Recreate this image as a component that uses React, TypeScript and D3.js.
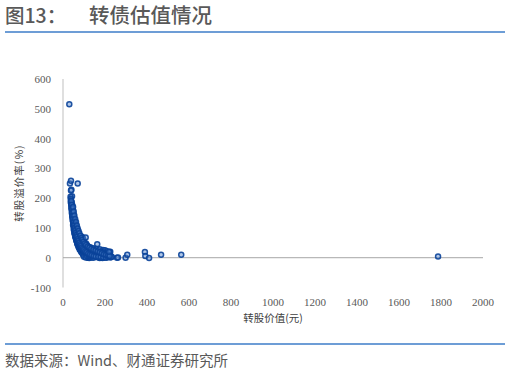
import React from "react";
import * as d3 from "d3";

const xTicks = [0, 200, 400, 600, 800, 1000, 1200, 1400, 1600, 1800, 2000];
const yTicks = [-100, 0, 100, 200, 300, 400, 500, 600];

// 转股价值 (元)
const conversionValue = [
  30, 33, 38, 70, 40, 38, 43,
  36, 37, 38, 37, 39, 40, 41, 40, 42, 43, 42, 44, 45, 44, 46, 47, 46, 48, 49, 50, 48, 51, 52, 53, 51, 54, 55, 56, 54, 57, 58, 60, 58, 61, 62, 64, 63, 66, 67, 69, 68, 71, 73, 75, 74, 77, 79, 81, 80, 84, 86, 88, 87, 91, 94, 96, 95, 99, 103, 107, 106, 110, 115, 120, 118, 125,
  45, 47, 50, 52, 55, 57, 60, 62, 65, 68, 70, 73, 76, 80, 84, 88, 92, 97, 102, 108, 115, 122, 130, 138, 146, 155, 165, 175, 185,
  42, 44, 46, 49, 51, 53, 56, 58, 61, 64, 66, 69, 72, 75, 78, 82, 86, 90, 95, 100, 105, 112, 118, 126, 134, 142, 150, 160, 170, 180,
  60, 64, 68, 72, 76, 80, 85, 90, 95, 100, 106, 112, 118, 125, 132, 140, 150, 160, 170, 180, 190, 200, 210,
  90, 95, 88, 98, 100, 110, 105, 115, 130, 145, 160, 175, 190, 200, 210,
  100, 108, 115, 122, 128, 135, 140, 145, 152, 158, 165, 172, 178, 185, 192, 198, 205, 212, 218, 222, 225, 215, 195, 188, 168, 175, 205, 230, 225, 200, 190, 180, 170, 160, 150, 140, 130, 120, 110,
  39, 41, 43, 45, 47, 49, 52, 54, 56, 59, 62, 65, 68, 71, 74, 78, 82, 86, 90, 95, 100, 106, 112, 120, 128, 136, 146, 156, 168, 180, 192, 205, 215, 225, 232,
  48, 51, 54, 58, 62, 66, 70, 74, 78, 83, 88, 93, 98, 104, 110, 118, 126, 135, 145, 155, 165, 175, 185, 195, 205, 215, 222,
  108, 163, 219, 257, 262, 298, 306, 390, 392, 410, 467, 563, 1786,
];

// 转股溢价率 (%)
const premiumRate = [
  515, 249, 258, 249, 228, 226, 206,
  205, 198, 192, 186, 180, 175, 170, 165, 160, 155, 150, 146, 142, 138, 134, 130, 126, 122, 118, 114, 110, 106, 102, 98, 95, 92, 88, 85, 82, 79, 76, 73, 70, 67, 64, 61, 58, 55, 52, 49, 46, 44, 41, 38, 36, 34, 31, 29, 27, 25, 23, 21, 19, 17, 15, 13, 11, 10, 8, 6, 5, 3, 2, 1, 0, -1,
  175, 160, 148, 135, 125, 115, 105, 96, 88, 80, 72, 65, 58, 52, 46, 40, 35, 30, 26, 22, 18, 15, 12, 10, 8, 6, 5, 4, 3,
  185, 168, 152, 140, 128, 118, 108, 99, 90, 82, 75, 68, 60, 54, 48, 42, 36, 31, 27, 22, 19, 15, 12, 9, 7, 5, 4, 2, 1, 0,
  115, 100, 92, 84, 74, 66, 58, 50, 44, 38, 33, 28, 24, 20, 17, 14, 11, 9, 7, 6, 5, 4, 3,
  70, 65, 62, 58, 50, 48, 45, 42, 35, 32, 30, 28, 26, 25, 22,
  3, 1, 5, 7, 3, 1, 2, 0, 10, 13, 9, 12, 10, 8, 11, 9, 7, 12, 14, 18, 20, 8, 2, -1, 4, -1, 1, 2, 5, 15, 18, 20, 16, 18, 22, 25, 28, 32, 36,
  190, 178, 165, 152, 140, 130, 120, 110, 100, 92, 84, 76, 70, 63, 57, 51, 45, 40, 34, 30, 26, 22, 18, 14, 11, 8, 6, 4, 3, 2, 1, 0, 2, 1, 3,
  170, 155, 142, 130, 120, 108, 98, 90, 82, 74, 66, 60, 54, 48, 43, 38, 34, 30, 27, 24, 21, 18, 15, 12, 10, 8, 6,
  68, 45, 20, 0, 1, 0, 10, 19, 6, -1, 10, 10, 4,
];

const W = 510;
const H = 374;

export default function App() {
  const x = d3.scaleLinear().domain([0, 2000]).range([63, 483]);
  const y = d3.scaleLinear().domain([-100, 600]).range([287.5, 79]);
  const points = conversionValue.map((v, i) => ({ v, p: premiumRate[i] }));
  const cjk = "'Noto Sans CJK SC', 'Noto Sans', sans-serif";
  const serif = "'Liberation Serif', 'Times New Roman', serif";
  const grey = "#595959";

  return (
    <svg
      width={W}
      height={H}
      viewBox={`0 0 ${W} ${H}`}
      style={{ position: "absolute", left: 0, top: 0, background: "#fff" }}
    >
      <rect x={0} y={0} width={W} height={H} fill="#fff" />
      {/* Title */}
      <text x={5} y={23} style={{ fontFamily: cjk }} fontSize={19.5} fontWeight={500} fill={grey}>
        图13：
      </text>
      <text x={89} y={23} style={{ fontFamily: cjk }} fontSize={20.5} fontWeight={500} fill={grey}>
        转债估值情况
      </text>
      <line x1={5} x2={505} y1={32} y2={32} stroke="#3d7cc9" strokeWidth={1.5} />

      {/* Axes */}
      <line x1={x(0)} x2={x(0)} y1={y(600)} y2={y(-100)} stroke="#bfbfbf" strokeWidth={1} />
      <line x1={x(0)} x2={x(2000)} y1={y(0)} y2={y(0)} stroke="#a6a6a6" strokeWidth={1} />

      {yTicks.map((t) => (
        <text
          key={"y" + t}
          x={51}
          y={y(t) + 4}
          textAnchor="end"
          style={{ fontFamily: serif }}
          fontSize={11}
          fill={grey}
        >
          {t}
        </text>
      ))}
      {xTicks.map((t) => (
        <text
          key={"x" + t}
          x={x(t)}
          y={306}
          textAnchor="middle"
          style={{ fontFamily: serif }}
          fontSize={11}
          fill={grey}
        >
          {t}
        </text>
      ))}

      <text
        x={273}
        y={322}
        textAnchor="middle"
        style={{ fontFamily: cjk }}
        fontSize={10.5}
        fill="#404040"
      >
        转股价值(元)
      </text>
      <text
        transform={`translate(23, 183) rotate(-90)`}
        textAnchor="middle"
        style={{ fontFamily: cjk }}
        fontSize={10.5}
        fill="#404040"
        letterSpacing={1}
      >
        转股溢价率(%)
      </text>

      {/* Points */}
      <g>
        {points.map((d, i) => (
          <circle
            key={i}
            cx={x(d.v)}
            cy={y(d.p)}
            r={2.5}
            fill="#4f82cc"
            fillOpacity={0.45}
            stroke="#0a4299"
            strokeOpacity={0.9}
            strokeWidth={1.5}
          />
        ))}
      </g>

      {/* Footer */}
      <line x1={5} x2={505} y1={344} y2={344} stroke="#3d7cc9" strokeWidth={1.5} />
      <text x={5} y={366} style={{ fontFamily: cjk }} fontSize={14.5} fill={grey}>
        数据来源：Wind、财通证券研究所
      </text>
    </svg>
  );
}
